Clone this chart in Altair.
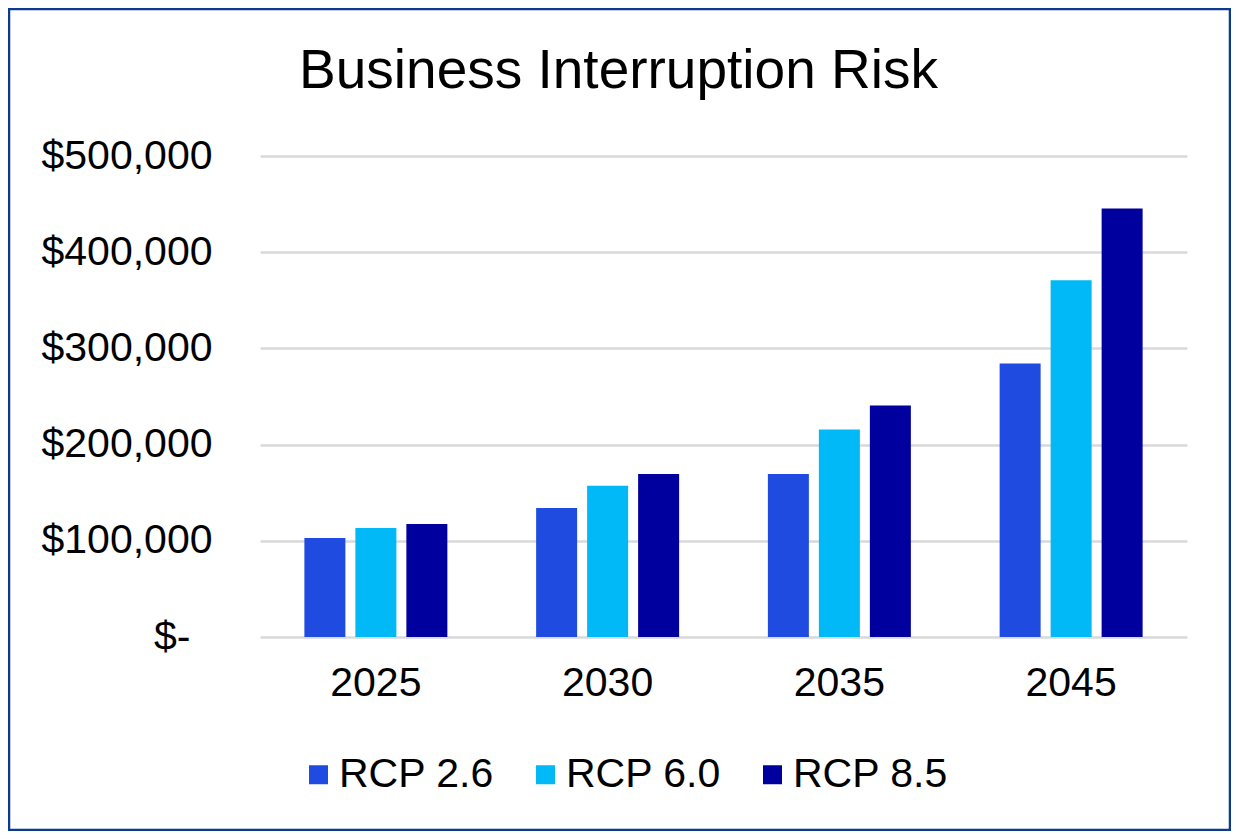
import altair as alt
import pandas as pd

years = ["2025", "2030", "2035", "2045"]
series = ["RCP 2.6", "RCP 6.0", "RCP 8.5"]
rcp26 = [102800, 134000, 169500, 284400]
rcp60 = [113200, 157300, 215600, 370800]
rcp85 = [117400, 169500, 240600, 445500]
colors = ["#204BE1", "#00B9F6", "#00009E"]

rows = []
for i, y in enumerate(years):
    for s, vals in zip(series, [rcp26, rcp60, rcp85]):
        rows.append({"year": y, "series": s, "value": vals[i]})
df = pd.DataFrame(rows)

FONT = "Liberation Sans"
W, H = 927, 481
PADL, PADT, PADR, PADB = 252, 148, 44, 194

bars = alt.Chart(df).mark_bar().encode(
    x=alt.X("year:N", sort=years, title=None,
            scale=alt.Scale(paddingInner=0.383, paddingOuter=0.1915),
            axis=alt.Axis(labelAngle=0, labelFontSize=41, labelFont=FONT, labelColor="black",
                          labelPadding=26, ticks=False, domain=False)),
    xOffset=alt.XOffset("series:N", sort=series,
                        scale=alt.Scale(paddingInner=0.196, paddingOuter=0)),
    y=alt.Y("value:Q", title=None,
            scale=alt.Scale(domain=[0, 500000], nice=False),
            axis=alt.Axis(values=[0, 100000, 200000, 300000, 400000, 500000],
                          labelExpr="datum.value == 0 ? '$-' : format(datum.value, '$,.0f')",
                          labelFontSize=41, labelFont=FONT, labelColor="black",
                          labelPadding={"condition": {"test": "datum.value == 0", "value": 70},
                                        "value": 48},
                          ticks=False, domain=False,
                          grid=True, gridColor="#D9D9D9", gridWidth=2.5)),
    color=alt.Color("series:N", sort=series,
                    scale=alt.Scale(domain=series, range=colors),
                    legend=alt.Legend(title=None, orient="none", direction="horizontal",
                                      legendX=38, legendY=598,
                                      symbolType="square", symbolSize=361,
                                      symbolStrokeWidth=0,
                                      labelFontSize=41, labelFont=FONT, labelColor="black",
                                      labelOffset=0, columnPadding=31)),
)

border = alt.Chart(pd.DataFrame({"a": [0]})).mark_rect(
    fill=None, stroke="#0B3A8E", strokeWidth=2.5, clip=False
).encode(
    x=alt.value(-PADL + 1), x2=alt.value(W + PADR - 1),
    y=alt.value(-PADT + 1), y2=alt.value(H + PADB - 1),
)

chart = alt.layer(border, bars).properties(
    width=W, height=H,
    autosize=alt.AutoSizeParams(type="none"),
    padding={"left": PADL, "top": PADT, "right": PADR, "bottom": PADB},
    background="white",
    title=alt.TitleParams("Business Interruption Risk", font=FONT, fontSize=55,
                          fontWeight="normal", color="black", anchor="middle",
                          frame="group", dx=-105, dy=135, offset=0, baseline="alphabetic"),
).configure_view(stroke=None)

chart.save("out.html", embed_options={"renderer": "svg", "actions": False})
